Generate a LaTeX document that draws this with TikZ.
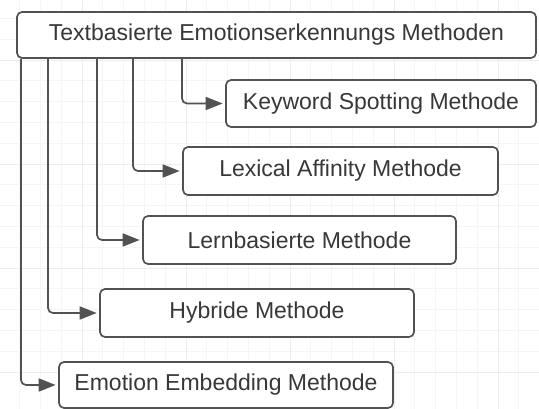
\documentclass[tikz,border=0pt]{standalone}
\usepackage{fontspec}
\setmainfont{Liberation Sans}
\usetikzlibrary{arrows.meta}

\begin{document}
\begin{tikzpicture}[x = 1pt, y = -1pt]
\tikzstyle{gridStyle} = [draw = black!4, line width = 0.7pt]
\tikzstyle{majorGridStyle} = [draw = black!7, line width = 0.8pt]
\tikzstyle{boxStyle} = [shape = rectangle, draw = black!68, line width = 1.7pt, rounded corners = 5pt, fill = white, text = black!78, font = \fontsize{23}{26}\selectfont, inner sep = 0pt]
\tikzstyle{arrowStyle} = [draw = black!68, line width = 1.7pt, rounded corners = 5pt, shorten > = 2.5pt, -{Triangle[length = 17pt, width = 13pt]}]
\useasboundingbox (0,0) rectangle (539,409);
% background grid
\foreach \i in {0,...,26} {
  \draw[gridStyle] ({-22 + 20.8*\i},0) -- ({-22 + 20.8*\i},409);
}
\foreach \i in {0,...,20} {
  \draw[gridStyle] (0,{-44 + 20.8*\i}) -- (539,{-44 + 20.8*\i});
}
\foreach \i in {0,...,5} {
  \draw[majorGridStyle] ({-22 + 104*\i},0) -- ({-22 + 104*\i},409);
}
\foreach \i in {0,...,4} {
  \draw[majorGridStyle] (0,{-44 + 104*\i}) -- (539,{-44 + 104*\i});
}
% boxes
\node[boxStyle, minimum width = 519pt, minimum height = 46pt] (top) at (276.5, 35) {Textbasierte Emotionserkennungs Methoden};
\node[boxStyle, minimum width = 310pt, minimum height = 47pt] (m1) at (381, 103.5) {Keyword Spotting Methode};
\node[boxStyle, minimum width = 315pt, minimum height = 48pt] (m2) at (340.5, 171) {Lexical Affinity Methode};
\node[boxStyle, minimum width = 313pt, minimum height = 48pt] (m3) at (299.5, 240) {Lernbasierte Methode};
\node[boxStyle, minimum width = 314pt, minimum height = 48pt] (m4) at (257, 313) {Hybride Methode};
\node[boxStyle, minimum width = 334pt, minimum height = 46pt] (m5) at (226, 385) {Emotion Embedding Methode};
% connectors
\draw[arrowStyle] (top.south -| 182,0) |- (m1.west);
\draw[arrowStyle] (top.south -| 133,0) |- (m2.west);
\draw[arrowStyle] (top.south -| 97,0) |- (m3.west);
\draw[arrowStyle] (top.south -| 48,0) |- (m4.west);
\draw[arrowStyle] (top.south -| 21,0) |- (m5.west);
\end{tikzpicture}
\end{document}
